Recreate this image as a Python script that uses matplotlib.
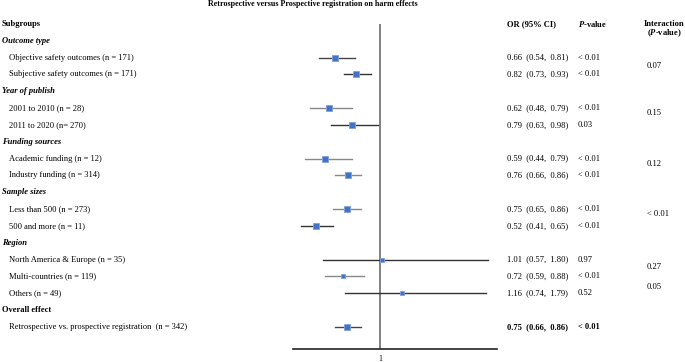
import matplotlib
matplotlib.use("Agg")
import matplotlib.pyplot as plt
from matplotlib.transforms import blended_transform_factory

plt.rcParams['font.family'] = ['Liberation Serif', 'DejaVu Serif']
plt.rcParams['mathtext.fontset'] = 'custom'
plt.rcParams['mathtext.it'] = 'Liberation Serif:italic:bold'
plt.rcParams['mathtext.rm'] = 'Liberation Serif:bold'

# Data
group_names = ['Outcome type', 'Year of publish', 'Funding sources',
               'Sample sizes', 'Region']
subgroups = [
    'Objective safety outcomes (n = 171)',
    'Subjective safety outcomes (n = 171)',
    '2001 to 2010 (n = 28)',
    '2011 to 2020 (n= 270)',
    'Academic funding (n = 12)',
    'Industry funding (n = 314)',
    'Less than 500 (n = 273)',
    '500 and more (n = 11)',
    'North America & Europe (n = 35)',
    'Multi-countries (n = 119)',
    'Others (n = 49)',
]
odds = [0.66, 0.82, 0.62, 0.79, 0.59, 0.76, 0.75, 0.52, 1.01, 0.72, 1.16]
ci_low = [0.54, 0.73, 0.48, 0.63, 0.44, 0.66, 0.65, 0.41, 0.57, 0.59, 0.74]
ci_high = [0.81, 0.93, 0.79, 0.98, 0.79, 0.86, 0.86, 0.65, 1.80, 0.88, 1.79]
p_values = ['< 0.01', '< 0.01', '< 0.01', '0.03', '< 0.01', '< 0.01',
            '< 0.01', '< 0.01', '0.97', '< 0.01', '0.52']
interaction = ['0.07', '0.15', '0.12', '< 0.01', '0.27', '0.05']

overall_label = 'Retrospective vs. prospective registration  (n = 342)'
overall_or = 0.75
overall_low = 0.66
overall_high = 0.86
overall_p = '< 0.01'

# Layout / style (row units: one row per text line)
item_rows = [2, 3, 5, 6, 8, 9, 11, 12, 14, 15, 16]
group_rows = [1, 4, 7, 10, 13]
interaction_rows = [2.5, 5.3, 8.3, 11.3, 14.45, 15.65]
marker_sizes = [3.8, 5.0, 3.8, 3.8, 3.8, 4.5, 4.5, 3.8, 3.3, 3.3, 3.3]
line_colors = ['#444444', '#333333', '#888888', '#333333', '#888888', '#888888',
               '#888888', '#333333', '#333333', '#888888', '#333333']
box_color = '#4472C4'
fs = 6.1

W, H = 685, 362
fig = plt.figure(figsize=(W / 100, H / 100), dpi=100)

# forest panel: x 293..497 px, y 24..349 px
ax = fig.add_axes([293 / W, (H - 349) / H, (497 - 293) / W, (349 - 24) / H])
row_px = 16.83
ax.set_ylim((349 - 24) / row_px, 0)
ax.set_xlim(0.35, 1.87)

for spine in ['top', 'right', 'left']:
    ax.spines[spine].set_visible(False)
ax.spines['bottom'].set_linewidth(1.2)
ax.spines['bottom'].set_color('#222222')
ax.set_yticks([])
ax.set_xticks([1])
ax.set_xticklabels(['1'], fontsize=5.5)
ax.tick_params(axis='x', length=0, pad=4)
ax.axvline(1, color='#777777', lw=1.3, zorder=1)

for i, row in enumerate(item_rows):
    ax.plot([ci_low[i], ci_high[i]], [row, row], color=line_colors[i], lw=1.0, zorder=2)
    ax.plot(odds[i], row, marker='s', ms=marker_sizes[i], color=box_color,
            mec='#7fa0dc', mew=0.6, zorder=3)

ax.plot([overall_low, overall_high], [18, 18], color='#444444', lw=1.0, zorder=2)
ax.plot(overall_or, 18, marker='s', ms=5.0, color=box_color, mec='#7fa0dc',
        mew=0.6, zorder=3)

tr = blended_transform_factory(fig.transFigure, ax.transData)

def fx(px):
    return px / W

# title and headers
ax.text(fx(313), -1.2, 'Retrospective versus Prospective registration on harm effects',
        transform=tr, ha='center', va='center', fontsize=5.8, fontweight='bold')
ax.text(fx(2), 0, 'Subgroups', transform=tr, va='center', fontsize=fs, fontweight='bold')
ax.text(fx(507), 0, 'OR (95% CI)', transform=tr, va='center', fontsize=fs, fontweight='bold')
ax.text(fx(578), 0, '$P$-value', transform=tr, va='center', fontsize=fs, fontweight='bold')
ax.text(fx(664), 0, 'Interaction', transform=tr, ha='center', va='center',
        fontsize=fs, fontweight='bold')
ax.text(fx(664), 0.55, '($P$-value)', transform=tr, ha='center', va='center',
        fontsize=fs, fontweight='bold')

for name, row in zip(group_names, group_rows):
    ax.text(fx(2), row, name, transform=tr, va='center', fontsize=fs,
            fontweight='bold', fontstyle='italic')

for i, row in enumerate(item_rows):
    ax.text(fx(9), row, subgroups[i], transform=tr, va='center', fontsize=fs)
    ax.text(fx(507), row, f'{odds[i]:.2f}  ({ci_low[i]:.2f},  {ci_high[i]:.2f})',
            transform=tr, va='center', fontsize=fs)
    ax.text(fx(578), row, p_values[i], transform=tr, va='center', fontsize=fs)

for val, row in zip(interaction, interaction_rows):
    ax.text(fx(647), row, val, transform=tr, va='center', fontsize=fs)

ax.text(fx(2), 17, 'Overall effect', transform=tr, va='center', fontsize=fs, fontweight='bold')
ax.text(fx(9), 18, overall_label, transform=tr, va='center', fontsize=fs)
ax.text(fx(507), 18, f'{overall_or:.2f}  ({overall_low:.2f},  {overall_high:.2f})',
        transform=tr, va='center', fontsize=fs, fontweight='bold')
ax.text(fx(578), 18, overall_p, transform=tr, va='center', fontsize=fs, fontweight='bold')

fig.savefig('out.png', dpi=100)
